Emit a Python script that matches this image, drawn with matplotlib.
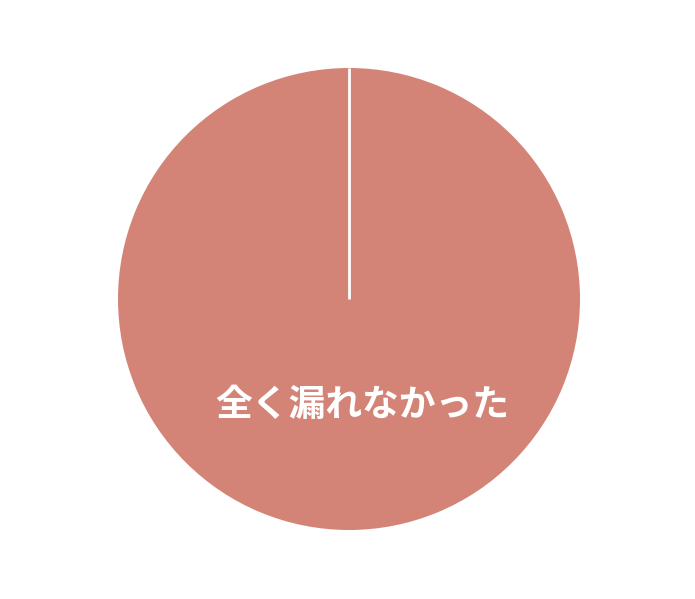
import matplotlib
matplotlib.use('Agg')
import numpy as np
import matplotlib.pyplot as plt

plt.rcParams['font.family'] = ['Noto Sans CJK JP', 'DejaVu Sans']

# Data
labels = ['全く漏れなかった']
values = [100]
colors = ['#d38477']
start_angle = 90

fig = plt.figure(figsize=(6.95, 5.99), dpi=100)
# pie centre at (349, 299) px, radius about 231 px
R = 231
ax = fig.add_axes([(349 - R) / 695, (599 - 299 - R) / 599, 2 * R / 695, 2 * R / 599])

wedges, _ = ax.pie(values, colors=colors, startangle=start_angle, counterclock=False,
                   radius=1.0, wedgeprops=dict(edgecolor='none'))
# radial boundary of the single full wedge
a = np.deg2rad(start_angle)
ax.plot([0, np.cos(a)], [0, np.sin(a)], color='white', lw=2, solid_capstyle='butt')

ax.set_xlim(-1, 1)
ax.set_ylim(-1, 1)
ax.set_aspect('equal')
ax.axis('off')

ax.text(0.056, -0.46, labels[0], color='white', fontsize=26.5, fontweight='bold',
        ha='center', va='center')

fig.savefig('out.png', dpi=100)
